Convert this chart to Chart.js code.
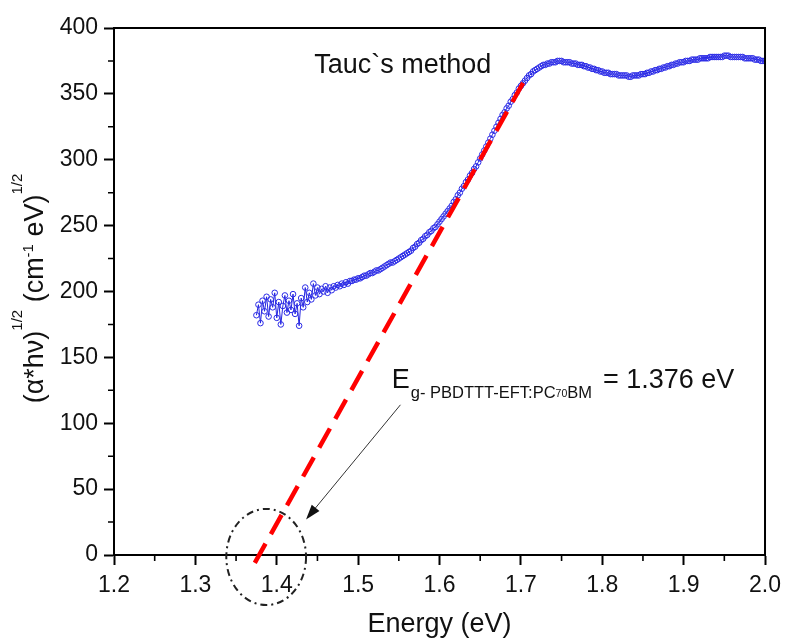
<!DOCTYPE html>
<html>
<head>
<meta charset="utf-8">
<script src="https://cdn.jsdelivr.net/npm/chart.js@4"></script>
<style>
  html, body { margin: 0; padding: 0; background: #fff; }
  #wrap { width: 788px; height: 639px; }
</style>
</head>
<body>
<div id="wrap"><canvas id="myChart" width="788" height="639"></canvas></div>
<script>
// photon energy (eV)
const energy = [
  1.3750, 1.3775, 1.3800, 1.3825, 1.3850, 1.3875, 1.3900, 1.3925, 1.3950, 1.3975,
  1.4000, 1.4025, 1.4050, 1.4075, 1.4100, 1.4125, 1.4150, 1.4175, 1.4200, 1.4225,
  1.4250, 1.4275, 1.4300, 1.4325, 1.4350, 1.4375, 1.4400, 1.4425, 1.4450, 1.4475,
  1.4500, 1.4525, 1.4550, 1.4575, 1.4600, 1.4625, 1.4650, 1.4675, 1.4700, 1.4725,
  1.4750, 1.4775, 1.4800, 1.4825, 1.4850, 1.4875, 1.4900, 1.4925, 1.4950, 1.4975,
  1.5000, 1.5025, 1.5050, 1.5075, 1.5100, 1.5125, 1.5150, 1.5175, 1.5200, 1.5225,
  1.5250, 1.5275, 1.5300, 1.5325, 1.5350, 1.5375, 1.5400, 1.5425, 1.5450, 1.5475,
  1.5500, 1.5525, 1.5550, 1.5575, 1.5600, 1.5625, 1.5650, 1.5675, 1.5700, 1.5725,
  1.5750, 1.5775, 1.5800, 1.5825, 1.5850, 1.5875, 1.5900, 1.5925, 1.5950, 1.5975,
  1.6000, 1.6025, 1.6050, 1.6075, 1.6100, 1.6125, 1.6150, 1.6175, 1.6200, 1.6225,
  1.6250, 1.6275, 1.6300, 1.6325, 1.6350, 1.6375, 1.6400, 1.6425, 1.6450, 1.6475,
  1.6500, 1.6525, 1.6550, 1.6575, 1.6600, 1.6625, 1.6650, 1.6675, 1.6700, 1.6725,
  1.6750, 1.6775, 1.6800, 1.6825, 1.6850, 1.6875, 1.6900, 1.6925, 1.6950, 1.6975,
  1.7000, 1.7025, 1.7050, 1.7075, 1.7100, 1.7125, 1.7150, 1.7175, 1.7200, 1.7225,
  1.7250, 1.7275, 1.7300, 1.7325, 1.7350, 1.7375, 1.7400, 1.7425, 1.7450, 1.7475,
  1.7500, 1.7525, 1.7550, 1.7575, 1.7600, 1.7625, 1.7650, 1.7675, 1.7700, 1.7725,
  1.7750, 1.7775, 1.7800, 1.7825, 1.7850, 1.7875, 1.7900, 1.7925, 1.7950, 1.7975,
  1.8000, 1.8025, 1.8050, 1.8075, 1.8100, 1.8125, 1.8150, 1.8175, 1.8200, 1.8225,
  1.8250, 1.8275, 1.8300, 1.8325, 1.8350, 1.8375, 1.8400, 1.8425, 1.8450, 1.8475,
  1.8500, 1.8525, 1.8550, 1.8575, 1.8600, 1.8625, 1.8650, 1.8675, 1.8700, 1.8725,
  1.8750, 1.8775, 1.8800, 1.8825, 1.8850, 1.8875, 1.8900, 1.8925, 1.8950, 1.8975,
  1.9000, 1.9025, 1.9050, 1.9075, 1.9100, 1.9125, 1.9150, 1.9175, 1.9200, 1.9225,
  1.9250, 1.9275, 1.9300, 1.9325, 1.9350, 1.9375, 1.9400, 1.9425, 1.9450, 1.9475,
  1.9500, 1.9525, 1.9550, 1.9575, 1.9600, 1.9625, 1.9650, 1.9675, 1.9700, 1.9725,
  1.9750, 1.9775, 1.9800, 1.9825, 1.9850, 1.9875, 1.9900, 1.9925, 1.9950, 1.9975,
  2.0000
];
// (alpha*h*nu)^1/2
const tauc = [
  182, 190, 176, 193, 185, 196, 181, 194, 188, 199,
  180, 192, 175, 189, 197, 184, 193, 186, 198, 183,
  191, 174, 195, 188, 203, 192, 199, 194, 206, 197,
  203, 198, 202, 200, 204, 199, 203, 201, 204, 203,
  205, 204, 206, 205, 207, 206, 208, 208, 209, 209,
  210, 210, 211, 212, 212, 213, 214, 214, 215, 216,
  216, 217, 218, 219, 220, 221, 222, 222, 223, 224,
  225, 226, 227, 228, 229, 230, 231, 233, 234, 236,
  237, 239, 240, 242, 243, 245, 246, 248, 249, 251,
  253, 255, 257, 259, 261, 263, 265, 268, 270, 273,
  275, 278, 280, 283, 285, 288, 290, 293, 295, 298,
  301, 304, 307, 310, 313, 316, 319, 322, 325, 328,
  331, 334, 336, 339, 341, 344, 346, 349, 351, 354,
  356, 358, 360, 362, 364, 365, 367, 368, 369, 370,
  371, 372, 372, 373, 373, 374, 374, 374, 375, 375,
  375, 374, 374, 374, 374, 373, 373, 373, 372, 372,
  372, 371, 371, 370, 370, 369, 369, 368, 368, 367,
  367, 366, 366, 366, 365, 365, 365, 365, 364, 364,
  364, 364, 364, 363, 363, 364, 364, 364, 364, 365,
  365, 365, 366, 366, 367, 367, 368, 368, 369, 369,
  370, 370, 371, 371, 372, 372, 373, 373, 374, 374,
  374, 375, 375, 375, 376, 376, 376, 376, 377, 377,
  377, 377, 377, 378, 378, 378, 378, 378, 378, 378,
  379, 379, 379, 378, 378, 378, 378, 378, 378, 378,
  377, 377, 377, 377, 377, 376, 376, 376, 375, 375,
  375
];
// linear fit (extrapolation) end points
const fitX = [1.373, 1.706];
const fitY = [-6, 362];

const xMinor = [1.25, 1.35, 1.45, 1.55, 1.65, 1.75, 1.85, 1.95];
const yMinor = [25, 75, 125, 175, 225, 275, 325, 375];

const FONT = '"Liberation Sans", Arial, sans-serif';
Chart.defaults.font.family = FONT;

const annot = {
  id: 'annot',
  afterDatasetsDraw(chart) {
    const { ctx, chartArea: a, scales: { x, y } } = chart;
    ctx.save();

    // frame top / right
    ctx.strokeStyle = '#000';
    ctx.lineWidth = 2;
    ctx.beginPath();
    ctx.moveTo(a.left, a.top);
    ctx.lineTo(a.right, a.top);
    ctx.lineTo(a.right, a.bottom);
    ctx.stroke();

    // minor ticks
    ctx.lineWidth = 1.6;
    ctx.beginPath();
    xMinor.forEach(v => {
      const px = x.getPixelForValue(v);
      ctx.moveTo(px, a.bottom);
      ctx.lineTo(px, a.bottom + 6);
    });
    yMinor.forEach(v => {
      const py = y.getPixelForValue(v);
      ctx.moveTo(a.left, py);
      ctx.lineTo(a.left - 6, py);
    });
    ctx.stroke();

    // dash-dot ellipse around intercept
    const cx = x.getPixelForValue(1.387), cy = y.getPixelForValue(-1.5);
    const rx = x.getPixelForValue(1.436) - cx, ry = cy - y.getPixelForValue(35);
    ctx.strokeStyle = '#222';
    ctx.lineWidth = 2;
    ctx.setLineDash([7, 4, 2, 4]);
    ctx.beginPath();
    ctx.ellipse(cx, cy, rx, ry, 0, 0, Math.PI * 2);
    ctx.stroke();
    ctx.setLineDash([]);

    // arrow
    const x0 = x.getPixelForValue(1.552), y0 = y.getPixelForValue(114);
    const x1 = x.getPixelForValue(1.436), y1 = y.getPixelForValue(27);
    const ang = Math.atan2(y1 - y0, x1 - x0);
    ctx.strokeStyle = '#333';
    ctx.lineWidth = 1;
    ctx.beginPath();
    ctx.moveTo(x0, y0);
    ctx.lineTo(x1 - 10 * Math.cos(ang), y1 - 10 * Math.sin(ang));
    ctx.stroke();
    ctx.fillStyle = '#111';
    ctx.beginPath();
    ctx.moveTo(x1, y1);
    ctx.lineTo(x1 - 15 * Math.cos(ang) + 5 * Math.sin(ang), y1 - 15 * Math.sin(ang) - 5 * Math.cos(ang));
    ctx.lineTo(x1 - 15 * Math.cos(ang) - 5 * Math.sin(ang), y1 - 15 * Math.sin(ang) + 5 * Math.cos(ang));
    ctx.closePath();
    ctx.fill();

    // labels
    ctx.fillStyle = '#111';
    ctx.textBaseline = 'alphabetic';
    ctx.textAlign = 'left';
    ctx.font = '27px ' + FONT;
    ctx.fillText('Tauc`s method', x.getPixelForValue(1.446), y.getPixelForValue(366));

    let ex = x.getPixelForValue(1.5413);
    const eb = y.getPixelForValue(126.5);
    ctx.fillText('E', ex, eb);
    ex += ctx.measureText('E').width + 1;
    ctx.font = '16.5px ' + FONT;
    ctx.fillText('g- PBDTTT-EFT:PC', ex, eb + 10);
    ex += ctx.measureText('g- PBDTTT-EFT:PC').width;
    ctx.font = '10.5px ' + FONT;
    ctx.fillText('70', ex, eb + 9);
    ex += ctx.measureText('70').width;
    ctx.font = '16.5px ' + FONT;
    ctx.fillText('BM', ex, eb + 10);
    ex += ctx.measureText('BM').width + 11;
    ctx.font = '27px ' + FONT;
    ctx.fillText('= 1.376 eV', ex, eb);

    ctx.restore();
  },
  afterDraw(chart) {
    const { ctx, chartArea: a } = chart;
    ctx.save();
    ctx.fillStyle = '#111';
    ctx.textBaseline = 'alphabetic';

    // x title
    ctx.font = '27px ' + FONT;
    ctx.textAlign = 'center';
    ctx.fillText('Energy (eV)', (a.left + a.right) / 2, 632);

    // y title with superscripts
    const parts = [
      ['(\u03b1*h\u03bd)', 27, 0],
      ['1/2', 15, -21],
      [' (cm', 27, 0],
      ['-1', 15, -10],
      [' eV)', 27, 0],
      ['1/2', 15, -21]
    ];
    ctx.textAlign = 'left';
    let total = 0;
    parts.forEach(p => { ctx.font = p[1] + 'px ' + FONT; total += ctx.measureText(p[0]).width; });
    ctx.translate(43, (a.top + a.bottom) / 2 - 3);
    ctx.rotate(-Math.PI / 2);
    let pos = -total / 2;
    parts.forEach(p => {
      ctx.font = p[1] + 'px ' + FONT;
      ctx.fillText(p[0], pos, p[2]);
      pos += ctx.measureText(p[0]).width;
    });
    ctx.restore();
  }
};

const data = {
  datasets: [
    {
      label: 'fit',
      data: fitX.map((v, i) => ({ x: v, y: fitY[i] })),
      borderColor: '#ff0000',
      borderWidth: 4.5,
      borderDash: [22, 11],
      pointRadius: 0,
      clip: false,
      order: 0
    },
    {
      label: 'Tauc',
      data: energy.map((v, i) => ({ x: v, y: tauc[i] })),
      borderColor: '#2424e0',
      borderWidth: 1,
      pointRadius: 2.8,
      pointBorderWidth: 1,
      pointBorderColor: '#2a2ae6',
      pointBackgroundColor: 'rgba(255,255,255,0)',
      order: 1
    }
  ]
};

const config = {
  type: 'line',
  data: data,
  options: {
    responsive: false,
    animation: false,
    layout: { padding: { left: 0, right: 20, top: 28, bottom: 0 } },
    plugins: { legend: { display: false }, tooltip: { enabled: false } },
    scales: {
      x: {
        type: 'linear',
        min: 1.2,
        max: 2.0,
        afterFit: s => { s.height = 84; },
        ticks: {
          stepSize: 0.1,
          padding: 7,
          color: '#111',
          font: { size: 23 },
          callback: v => Number(v).toFixed(1),
          maxRotation: 0
        },
        grid: { drawOnChartArea: false, tickLength: 10, tickWidth: 2, tickColor: '#000' },
        border: { color: '#000', width: 2 }
      },
      y: {
        min: 0,
        max: 400,
        afterFit: s => { s.width = 114; },
        ticks: {
          stepSize: 50,
          padding: 6,
          color: '#111',
          font: { size: 23 }
        },
        grid: { drawOnChartArea: false, tickLength: 10, tickWidth: 2, tickColor: '#000' },
        border: { color: '#000', width: 2 }
      }
    }
  },
  plugins: [annot]
};

var myChart = new Chart(document.getElementById('myChart'), config);
</script>
</body>
</html>
